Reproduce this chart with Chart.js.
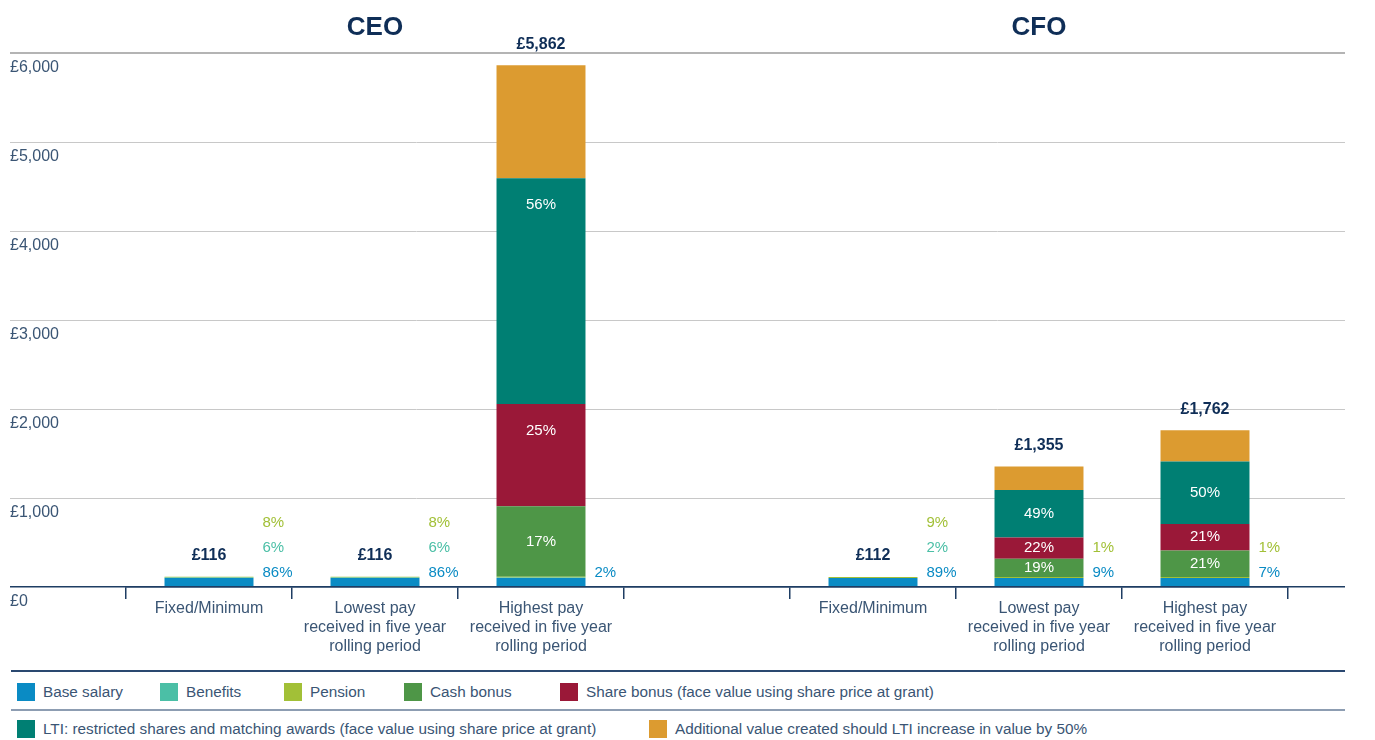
<!DOCTYPE html>
<html>
<script src="https://cdn.jsdelivr.net/npm/chart.js"></script>
<style type="text/css">
  body { margin: 0; background: #fff; font-family: "Liberation Sans", Arial, sans-serif; }
  .chartBox { width: 1375px; height: 665px; }
  .legend { margin: 5px 30px 0 11px; }
  .legendRow { display: flex; align-items: flex-start; border-top: 2px solid #2a4870; padding-left: 6px; }
  .legendRow.first { height: 26px; padding-top: 11px; }
  .legendRow.second { height: 29px; padding-top: 9px; border-top-color: #8d9db2; }
  .legendItem { display: flex; align-items: center; font-size: 15.3px; line-height: 18px; color: #3a5574; white-space: nowrap; }
  .first .legendItem:nth-child(1) { width: 143px; }
  .first .legendItem:nth-child(2) { width: 124px; }
  .first .legendItem:nth-child(3) { width: 120px; }
  .first .legendItem:nth-child(4) { width: 156px; }
  .second .legendItem:nth-child(1) { width: 632px; }
  .swatch { width: 18px; height: 18px; margin-right: 8px; flex: none; }
</style>
<body>
  <div class="chartBox">
    <canvas id="myChart"></canvas>
  </div>
  <div class="legend" id="legend"></div>

  <script>
    // categories (4th slot is the gap between CEO and CFO)
    const categories = [
      ['Fixed/Minimum'],
      ['Lowest pay', 'received in five year', 'rolling period'],
      ['Highest pay', 'received in five year', 'rolling period'],
      '',
      ['Fixed/Minimum'],
      ['Lowest pay', 'received in five year', 'rolling period'],
      ['Highest pay', 'received in five year', 'rolling period']
    ];
    const groups = ['CEO', 'CFO'];
    const groupCentre = [1, 5];

    const seriesNames = ['Base salary', 'Benefits', 'Pension', 'Cash bonus',
      'Share bonus (face value using share price at grant)',
      'LTI: restricted shares and matching awards (face value using share price at grant)',
      'Additional value created should LTI increase in value by 50%'];
    const seriesColors = ['#0a8bc4', '#4bbfa6', '#a2c037', '#4e9647', '#9a1838', '#007f73', '#dc9b30'];

    // £000
    const baseSalary = [100, 100, 100, null, 100, 100, 100];
    const benefits   = [7, 7, 7, null, 2, 2, 2];
    const pension    = [9, 9, 9, null, 10, 10, 10];
    const cashBonus  = [null, null, 790, null, null, 205, 298];
    const shareBonus = [null, null, 1150, null, null, 240, 298];
    const lti        = [null, null, 2537, null, null, 532, 703];
    const additional = [null, null, 1269, null, null, 266, 351];

    // percentage labels as printed
    const basePct     = ['86%', '86%', '2%', '', '89%', '9%', '7%'];
    const benefitsPct = ['6%', '6%', '', '', '2%', '', ''];
    const pensionPct  = ['8%', '8%', '', '', '9%', '1%', '1%'];
    const cashPct     = ['', '', '17%', '', '', '19%', '21%'];
    const sharePct    = ['', '', '25%', '', '', '22%', '21%'];
    const ltiPct      = ['', '', '56%', '', '', '49%', '50%'];

    const yTicks = [0, 1000, 2000, 3000, 4000, 5000, 6000];

    const series = [baseSalary, benefits, pension, cashBonus, shareBonus, lti, additional];
    const outsidePct = [basePct, benefitsPct, pensionPct];
    const insidePct = [cashPct, sharePct, ltiPct];

    const navy = '#0f2e57';
    const textCol = '#3a5574';
    const FONT = '"Liberation Sans", Arial, sans-serif';

    const gridColor = (c) => c.tick.value === 0 ? '#1e3d63' : (c.tick.value === 6000 ? '#b4b4b4' : '#c8c8c8');
    const gridWidth = (c) => c.tick.value === 0 ? 1.5 : (c.tick.value === 6000 ? 2 : 1);

    const labelPlugin = {
      id: 'barLabels',
      afterDatasetsDraw(chart) {
        const ctx = chart.ctx;
        const xs = chart.scales.x, ys = chart.scales.y;
        const y0 = ys.getPixelForValue(0);
        ctx.save();
        ctx.textBaseline = 'middle';

        // group titles
        ctx.font = 'bold 26px ' + FONT;
        ctx.fillStyle = navy;
        ctx.textAlign = 'center';
        groups.forEach((g, i) => ctx.fillText(g, xs.getPixelForValue(groupCentre[i]), 28));

        for (let i = 0; i < categories.length; i++) {
          if (baseSalary[i] == null) continue;
          const bar = chart.getDatasetMeta(0).data[i];
          const right = bar.x + bar.width / 2;

          // small components, to the right of the bar
          ctx.font = '15px ' + FONT;
          ctx.textAlign = 'left';
          let k = 0;
          outsidePct.forEach((arr, d) => {
            if (!arr[i]) return;
            ctx.fillStyle = seriesColors[d];
            ctx.fillText(arr[i], right + 9, y0 - 14 - 25 * k);
            k++;
          });

          // large components, inside
          ctx.textAlign = 'center';
          ctx.fillStyle = '#ffffff';
          insidePct.forEach((arr, j) => {
            if (!arr[i]) return;
            const el = chart.getDatasetMeta(j + 3).data[i];
            const h = el.base - el.y;
            const ty = h > 90 ? el.y + 27 : (el.y + el.base) / 2;
            ctx.fillText(arr[i], el.x, ty);
          });

          // total
          const total = series.reduce((s, a) => s + (a[i] || 0), 0);
          ctx.font = 'bold 16px ' + FONT;
          ctx.fillStyle = navy;
          ctx.fillText('£' + total.toLocaleString('en-GB'), bar.x, ys.getPixelForValue(total) - 21);
        }
        ctx.restore();
      }
    };

    const ctx = document.getElementById('myChart').getContext('2d');
    const myChart = new Chart(ctx, {
      type: 'bar',
      data: {
        labels: categories,
        datasets: series.map((d, i) => ({
          label: seriesNames[i],
          data: d,
          backgroundColor: seriesColors[i],
          borderWidth: 0,
          categoryPercentage: 1,
          barPercentage: 0.536
        }))
      },
      plugins: [labelPlugin],
      options: {
        responsive: true,
        maintainAspectRatio: false,
        animation: false,
        layout: { padding: { left: 10, right: 30, top: 53, bottom: 0 } },
        plugins: {
          legend: { display: false },
          tooltip: { enabled: false }
        },
        scales: {
          x: {
            stacked: true,
            grid: {
              offset: true,
              drawOnChartArea: false,
              drawTicks: true,
              tickLength: 12,
              color: '#1e3d63',
              lineWidth: 1.5
            },
            border: { display: true, color: '#1e3d63', width: 1.5, z: 1 },
            ticks: {
              color: textCol,
              font: { family: FONT, size: 16, lineHeight: 1.2 },
              padding: 0,
              maxRotation: 0,
              autoSkip: false
            },
            afterFit(scale) {
              scale.height = 78;
              scale.paddingLeft = 0;
              scale.paddingRight = 0;
            }
          },
          y: {
            stacked: true,
            min: 0,
            max: 6000,
            afterBuildTicks(scale) { scale.ticks = yTicks.map(v => ({ value: v })); },
            grid: {
              color: gridColor,
              lineWidth: gridWidth,
              drawTicks: true,
              tickLength: 116
            },
            border: { display: false },
            ticks: {
              color: textCol,
              font: { family: FONT, size: 16 },
              crossAlign: 'far',
              labelOffset: 15,
              callback: v => '£' + v.toLocaleString('en-GB')
            },
            afterFit(scale) {
              scale.width = 116;
              scale.paddingTop = 0;
              scale.paddingBottom = 0;
            }
          },
          y2: {
            position: 'right',
            display: true,
            min: 0,
            max: 6000,
            afterBuildTicks(scale) { scale.ticks = yTicks.map(v => ({ value: v })); },
            grid: {
              color: gridColor,
              lineWidth: gridWidth,
              drawOnChartArea: false,
              drawTicks: true,
              tickLength: 57
            },
            border: { display: false },
            ticks: { display: false },
            afterFit(scale) {
              scale.width = 57;
              scale.paddingTop = 0;
              scale.paddingBottom = 0;
            }
          }
        }
      }
    });

    // legend: two rows as in the report
    const legendRows = [[0, 1, 2, 3, 4], [5, 6]];
    const legendEl = document.getElementById('legend');
    legendRows.forEach((row, r) => {
      const rowEl = document.createElement('div');
      rowEl.className = 'legendRow ' + (r === 0 ? 'first' : 'second');
      row.forEach(i => {
        const item = document.createElement('div');
        item.className = 'legendItem';
        item.innerHTML = '<span class="swatch" style="background:' + seriesColors[i] + '"></span>' + seriesNames[i];
        rowEl.appendChild(item);
      });
      legendEl.appendChild(rowEl);
    });
  </script>

</body>
</html>
